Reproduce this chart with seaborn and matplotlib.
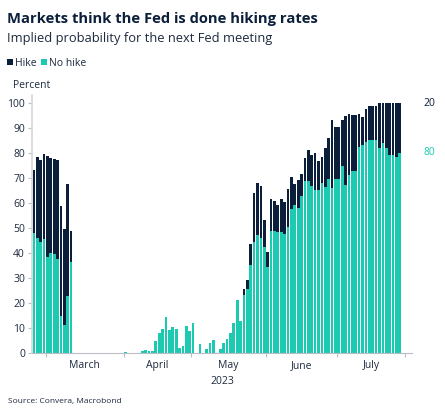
import matplotlib
matplotlib.use("Agg")
import matplotlib.pyplot as plt
from matplotlib.patches import Rectangle
from matplotlib.transforms import blended_transform_factory
import numpy as np
import pandas as pd
import seaborn as sns

# probabilities (percent) per trading day, Feb 23 - Jul 28 2023
no_hike = [
    # Feb 23 - Feb 28
    47.9, 45.8, 44.1, 45.5,
    # March
    38.3, 39.7, 39.5, 37.5, 14.8, 11.0, 22.8, 36.3,
    0, 0, 0, 0, 0, 0, 0, 0, 0, 0, 0, 0, 0, 0, 0,
    # April
    0.4, 0, 0, 0, 0, 0.8, 0.9, 0.5, 0.5, 4.8,
    8.0, 9.6, 14.2, 9.2, 10.4, 9.5, 1.7, 2.8, 10.8, 8.8,
    # May
    11.7, 0, 3.5, 0, 1.5, 4.0, 5.1, 0, 1.5, 3.9, 5.3,
    8.0, 11.9, 21.0, 12.5, 23.2, 25.6, 35.1, 44.3, 46.9, 45.9, 42.4,
    # June
    34.3, 48.8, 48.6, 48.3, 48.3, 47.4, 50.3, 57.5, 58.9, 57.8, 62.5,
    68.7, 68.6, 66.8, 64.9, 65.2, 67.7, 66.4, 69.3, 66.0, 69.3,
    # July
    69.3, 74.6, 66.9, 70.9, 72.5, 72.5, 82.2, 82.9, 84.1, 85.0,
    85.0, 85.0, 81.8, 83.7, 81.8, 78.9, 78.9, 78.4, 80.0,
]
hike = [
    25.3, 32.3, 33.0, 34.0,
    40.4, 38.2, 37.8, 39.7, 43.8, 38.6, 44.6, 12.2,
    0, 0, 0, 0, 0, 0, 0, 0, 0, 0, 0, 0, 0, 0, 0,
    0, 0, 0, 0, 0, 0, 0, 0, 0, 0,
    0, 0, 0, 0, 0, 0, 0, 0, 0, 0,
    0, 0, 0, 0, 0, 0, 0, 0, 0, 0, 0,
    0, 0, 0, 0, 2.2, 3.6, 8.3, 19.6, 21.1, 20.6, 10.8,
    6.1, 12.8, 11.9, 10.9, 13.0, 12.7, 15.3, 12.9, 8.6, 11.3, 9.1,
    9.0, 12.3, 12.3, 14.8, 11.4, 10.4, 15.4, 16.5, 26.9, 20.9,
    20.9, 18.3, 27.6, 24.4, 22.7, 22.7, 13.1, 11.2, 13.5, 13.6,
    13.6, 13.6, 17.9, 16.0, 18.2, 21.1, 21.1, 21.6, 20.0,
]
holidays = ["2023-05-29", "2023-06-19", "2023-07-04"]
month_names = ["March", "April", "May", "June", "July"]
last_hike, last_no_hike = 20, 80

navy = "#0c1f3a"
teal = "#1ccab2"
text_col = "#1d2a3e"
grey = "#b9bec6"

axis_days = pd.bdate_range("2023-02-23", "2023-08-04")
axis_days = axis_days[~axis_days.isin(pd.to_datetime(holidays))]

df = pd.DataFrame({
    "day": axis_days[:len(no_hike)].strftime("%Y-%m-%d"),
    "no_hike": no_hike,
    "hike": hike,
})
df["total"] = np.minimum(df["no_hike"] + df["hike"], 100)

sns.set_theme(style="ticks")
plt.rcParams["font.family"] = ["Open Sans", "DejaVu Sans"]

fig = plt.figure(figsize=(4.45, 4.16), dpi=100)
ax = fig.add_axes([32 / 445, 1 - 352.7 / 416, 380 / 445, 257.7 / 416])

sns.barplot(data=df, x="day", y="total", color=navy, saturation=1,
            width=0.8, errorbar=None, ax=ax)
sns.barplot(data=df, x="day", y="no_hike", color=teal, saturation=1,
            width=0.8, errorbar=None, ax=ax)
for p in ax.patches:
    p.set_linewidth(0)

ax.set_xlim(-0.55, 111.6)
ax.set_ylim(0, 103)
ax.set_xlabel("")
ax.set_ylabel("")

# month boundaries on the trading-day axis
starts = [i for i in range(1, len(axis_days))
          if axis_days[i].month != axis_days[i - 1].month]
bounds = [s - 0.5 for s in starts]
ax.set_xticks(bounds)
ax.set_xticklabels([""] * len(bounds))
centers = [(a + b) / 2 for a, b in zip(bounds[:-1], bounds[1:])]
ax.set_xticks(centers, minor=True)
ax.set_xticklabels(month_names, minor=True)
ax.tick_params(axis="x", which="major", length=3, width=0.8, color=grey)
ax.tick_params(axis="x", which="minor", length=0, pad=5,
               labelsize=7.5, labelcolor=text_col)

ax.set_yticks(range(0, 101, 10))
ax.tick_params(axis="y", length=3, width=0.8, color=grey, pad=2,
               labelsize=7.5, labelcolor=text_col)

sns.despine(ax=ax)
ax.spines["left"].set_color("#d4d7db")
ax.spines["left"].set_linewidth(1.2)
ax.spines["bottom"].set_color(grey)
ax.spines["bottom"].set_linewidth(0.8)

ax.text(0.5, -0.092, "2023", transform=ax.transAxes, ha="center",
        va="top", fontsize=7.5, color=text_col)

tr = blended_transform_factory(ax.transAxes, ax.transData)
ax.text(1.029, 99.5, str(last_hike), transform=tr, va="center",
        fontsize=7.5, color=navy)
ax.text(1.029, 80, str(last_no_hike), transform=tr, va="center",
        fontsize=7.5, color=teal)

fig.text(7 / 445, 1 - 23.3 / 416, "Markets think the Fed is done hiking rates",
         fontsize=10.6, fontweight="bold", color=navy, va="baseline")
fig.text(7 / 445, 1 - 41.7 / 416, "Implied probability for the next Fed meeting",
         fontsize=9.3, color=text_col, va="baseline")

fig.add_artist(Rectangle((7 / 445, 1 - 65 / 416), 5.5 / 445, 5.7 / 416,
                         transform=fig.transFigure, color=navy, lw=0))
fig.text(15 / 445, 1 - 66 / 416, "Hike", fontsize=7.5, color=text_col,
         va="baseline")
fig.add_artist(Rectangle((41 / 445, 1 - 65 / 416), 5.5 / 445, 5.7 / 416,
                         transform=fig.transFigure, color=teal, lw=0))
fig.text(49 / 445, 1 - 66 / 416, "No hike", fontsize=7.5, color=text_col,
         va="baseline")

fig.text(13 / 445, 1 - 87.7 / 416, "Percent", fontsize=7.5, color=text_col,
         va="baseline")
fig.text(8 / 445, 1 - 403.3 / 416, "Source: Convera, Macrobond", fontsize=6,
         color=text_col, va="baseline")

fig.savefig("out.png", dpi=100)
